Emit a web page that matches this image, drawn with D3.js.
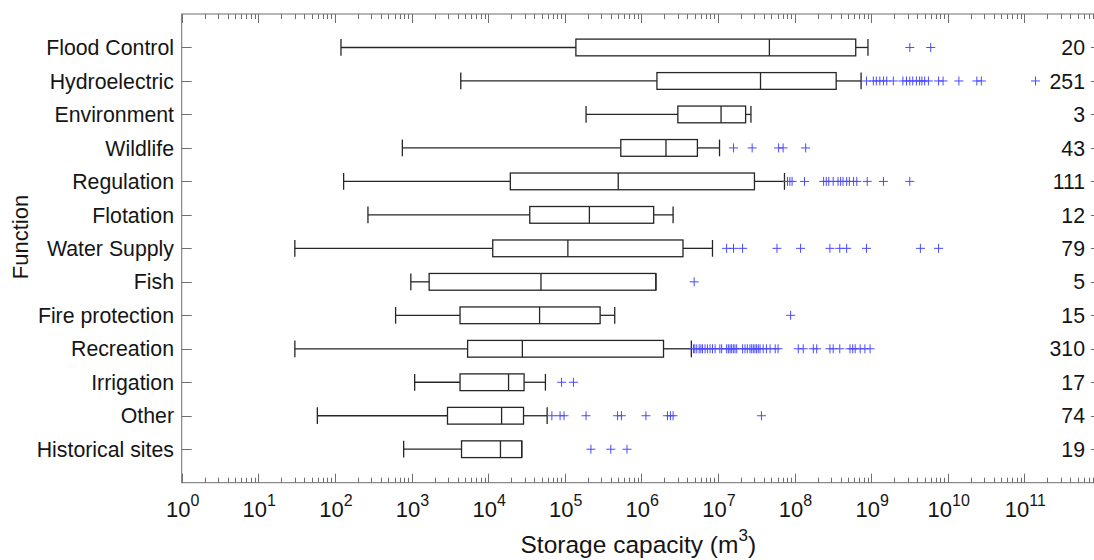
<!DOCTYPE html>
<html>
<head>
<meta charset="utf-8">
<script src="https://cdn.jsdelivr.net/npm/d3@7"></script>
<style>
  html, body { margin: 0; padding: 0; background: #fff; }
  svg { display: block; font-family: "Liberation Sans", Arial, Helvetica, sans-serif; }
</style>
</head>
<body>
<svg id="chart" width="1094" height="560"></svg>
<script>
// ---------- DATA ----------
const categories = ["Flood Control", "Hydroelectric", "Environment", "Wildlife", "Regulation",
  "Flotation", "Water Supply", "Fish", "Fire protection", "Recreation", "Irrigation", "Other", "Historical sites"];
const counts = [20, 251, 3, 43, 111, 12, 79, 5, 15, 310, 17, 74, 19];

// lower whisker, Q1, median, Q3, upper whisker (m^3)
const whiskerLow  = [120, 4.4e3, 1.9e5, 760, 130, 270, 30, 980, 620, 30, 1.1e3, 59, 790];
const q1          = [1.4e5, 1.6e6, 3.0e6, 5.4e5, 1.95e4, 3.5e4, 1.15e4, 1.7e3, 4.3e3, 5.4e3, 4.3e3, 2.95e3, 4.5e3];
const medians     = [4.7e7, 3.6e7, 1.1e7, 2.1e6, 5.0e5, 2.1e5, 1.1e5, 4.9e4, 4.7e4, 2.8e4, 1.85e4, 1.5e4, 1.45e4];
const q3          = [6.3e8, 3.5e8, 2.3e7, 5.4e6, 3.0e7, 1.45e6, 3.5e6, 1.55e6, 2.9e5, 1.95e6, 2.95e4, 2.9e4, 2.75e4];
const whiskerHigh = [9.1e8, 7.4e8, 2.7e7, 1.05e7, 7.4e7, 2.6e6, 8.5e6, 1.55e6, 4.5e5, 4.5e6, 5.6e4, 5.9e4, 2.75e4];

// outliers per category
const outFlood = [3.2e9, 6.0e9];
const outHydro = [8.7e8, 1.07e9, 1.17e9, 1.3e9, 1.45e9, 1.6e9, 1.95e9, 2.6e9, 2.9e9, 3.2e9, 3.5e9,
  3.9e9, 4.3e9, 4.6e9, 5.0e9, 5.6e9, 7.6e9, 8.7e9, 1.4e10, 2.4e10, 2.75e10, 1.4e11];
const outEnv = [];
const outWildlife = [1.6e7, 2.8e7, 6.2e7, 7.1e7, 1.4e8];
const outRegulation = [8.1e7, 8.7e7, 9.3e7, 1.35e8, 2.4e8, 2.6e8, 2.8e8, 3.2e8, 3.7e8, 4.0e8, 4.3e8,
  4.8e8, 5.2e8, 5.9e8, 6.5e8, 8.9e8, 1.45e9, 3.2e9];
const outFlotation = [];
const outWater = [1.3e7, 1.6e7, 2.1e7, 5.9e7, 1.2e8, 2.9e8, 3.9e8, 4.8e8, 8.7e8, 4.4e9, 7.6e9];
const outFish = [4.9e6];
const outFire = [8.9e7];
const outRecreation = [4.8e6, 5.0e6, 5.3e6, 5.7e6, 6.0e6, 6.3e6, 6.8e6, 7.3e6, 7.9e6, 8.5e6, 9.2e6,
  1.06e7, 1.12e7, 1.3e7, 1.37e7, 1.44e7, 1.51e7, 1.59e7, 1.67e7, 1.76e7, 2.1e7, 2.26e7, 2.42e7,
  2.62e7, 2.76e7, 2.9e7, 3.05e7, 3.2e7, 3.37e7, 3.55e7, 3.9e7, 4.3e7, 4.8e7, 5.6e7, 6.1e7,
  1.12e8, 1.3e8, 1.76e8, 1.95e8, 2.9e8, 3.2e8, 3.9e8, 5.3e8, 5.75e8, 6.2e8, 7.2e8, 8.3e8, 9.7e8];
const outIrrigation = [9.1e4, 1.3e5];
const outOther = [6.8e4, 8.7e4, 9.8e4, 1.9e5, 4.9e5, 5.5e5, 1.15e6, 2.2e6, 2.4e6, 2.6e6, 3.7e7];
const outHistorical = [2.2e5, 4.0e5, 6.5e5];
const outliers = [outFlood, outHydro, outEnv, outWildlife, outRegulation, outFlotation, outWater,
  outFish, outFire, outRecreation, outIrrigation, outOther, outHistorical];

const xDomain = [1, 1e12];
const majorExponents = [0, 1, 2, 3, 4, 5, 6, 7, 8, 9, 10, 11];

// ---------- LAYOUT ----------
const svg = d3.select("#chart");
const L = 181.7, R = 1100.9, T = 14, B = 482.7;
const x = d3.scaleLog().domain(xDomain).range([L, R]);
const y = d3.scaleLinear().domain([0, categories.length + 1]).range([T, B]);
const boxH = (y(1) - y(0)) * 0.5;

const axisColor = "#6e6e6e";
const boxColor = "#262626";
const outColor = "#4a4aff";
const textColor = "#151515";

// frame
svg.append("rect").attr("x", L).attr("y", T).attr("width", R - L).attr("height", B - T)
  .attr("fill", "none").attr("stroke", axisColor).attr("stroke-width", 1);

// x ticks (major & minor) top and bottom
const majors = majorExponents.map(e => Math.pow(10, e));
const minors = [];
majors.forEach(m => { for (let k = 2; k <= 9; k++) minors.push(m * k); });
const tickG = svg.append("g").attr("stroke", axisColor).attr("stroke-width", 1);
majors.forEach(v => {
  const px = Math.round(x(v)) + 0.5;
  tickG.append("line").attr("x1", px).attr("x2", px).attr("y1", B).attr("y2", B - 9);
  tickG.append("line").attr("x1", px).attr("x2", px).attr("y1", T).attr("y2", T + 9);
});
minors.filter(v => x(v) < R).forEach(v => {
  const px = Math.round(x(v)) + 0.5;
  tickG.append("line").attr("x1", px).attr("x2", px).attr("y1", B).attr("y2", B - 5);
  tickG.append("line").attr("x1", px).attr("x2", px).attr("y1", T).attr("y2", T + 5);
});

// y ticks left and right
categories.forEach((c, i) => {
  const py = Math.round(y(i + 1)) + 0.5;
  tickG.append("line").attr("x1", L).attr("x2", L + 10).attr("y1", py).attr("y2", py);
  tickG.append("line").attr("x1", R).attr("x2", R - 10).attr("y1", py).attr("y2", py);
});

// x tick labels 10^n
majorExponents.forEach(e => {
  const t = svg.append("text").attr("x", x(Math.pow(10, e)) + 1).attr("y", 517)
    .attr("text-anchor", "middle").attr("font-size", 22).attr("fill", textColor);
  t.append("tspan").text("10");
  t.append("tspan").attr("dy", -11).attr("font-size", 16).text(String(e));
});

// category labels
categories.forEach((c, i) => {
  svg.append("text").attr("x", 174).attr("y", y(i + 1)).attr("dy", "0.36em")
    .attr("text-anchor", "end").attr("font-size", 21.3).attr("fill", textColor).text(c);
});

// counts
counts.forEach((n, i) => {
  svg.append("text").attr("x", 1085).attr("y", y(i + 1)).attr("dy", "0.36em")
    .attr("text-anchor", "end").attr("font-size", 21.3).attr("fill", textColor).text(n);
});

// axis titles
const xt = svg.append("text").attr("x", (L + R) / 2 - 3).attr("y", 553).attr("text-anchor", "middle")
  .attr("font-size", 24.5).attr("fill", textColor);
xt.append("tspan").text("Storage capacity (m");
xt.append("tspan").attr("dy", -12).attr("font-size", 17).text("3");
xt.append("tspan").attr("dy", 12).text(")");

svg.append("text").attr("transform", "translate(28,237) rotate(-90)")
  .attr("text-anchor", "middle").attr("font-size", 22).attr("fill", textColor).text("Function");

// boxes
const g = svg.append("g").attr("stroke", boxColor).attr("stroke-width", 1.3).attr("fill", "none");
categories.forEach((c, i) => {
  const cy = y(i + 1);
  const top = cy - boxH / 2, bot = cy + boxH / 2;
  g.append("line").attr("x1", x(whiskerLow[i])).attr("x2", x(q1[i])).attr("y1", cy).attr("y2", cy);
  g.append("line").attr("x1", x(q3[i])).attr("x2", x(whiskerHigh[i])).attr("y1", cy).attr("y2", cy);
  g.append("line").attr("x1", x(whiskerLow[i])).attr("x2", x(whiskerLow[i])).attr("y1", top).attr("y2", bot);
  g.append("line").attr("x1", x(whiskerHigh[i])).attr("x2", x(whiskerHigh[i])).attr("y1", top).attr("y2", bot);
  g.append("rect").attr("x", x(q1[i])).attr("y", top).attr("width", x(q3[i]) - x(q1[i])).attr("height", boxH);
  g.append("line").attr("x1", x(medians[i])).attr("x2", x(medians[i])).attr("y1", top).attr("y2", bot);
});

// outliers
const og = svg.append("g").attr("stroke", outColor).attr("stroke-width", 1);
outliers.forEach((arr, i) => {
  const cy = y(i + 1);
  arr.forEach(v => {
    const px = x(v);
    og.append("line").attr("x1", px - 4.5).attr("x2", px + 4.5).attr("y1", cy).attr("y2", cy);
    og.append("line").attr("x1", px).attr("x2", px).attr("y1", cy - 4.5).attr("y2", cy + 4.5);
  });
});
</script>
</body>
</html>
